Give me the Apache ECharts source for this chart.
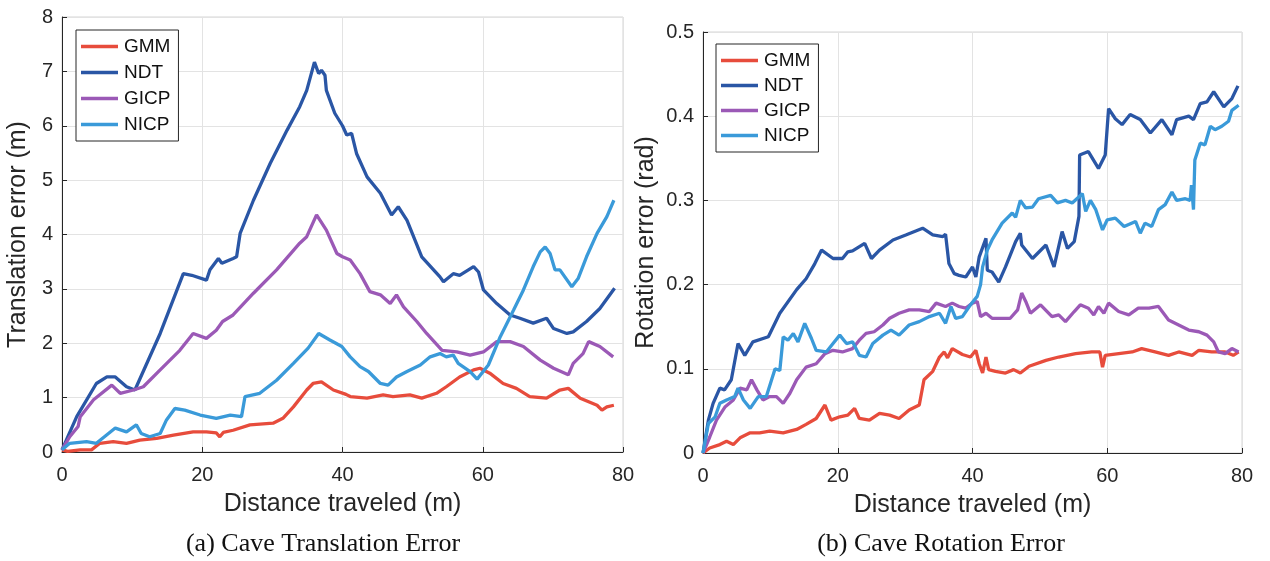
<!DOCTYPE html>
<html>
<head>
<meta charset="utf-8">
<script src="https://cdn.jsdelivr.net/npm/echarts@6/dist/echarts.min.js"></script>
<style>html,body{margin:0;padding:0;background:#fff}#c{width:1270px;height:561px}</style>
</head>
<body>
<div id="c"></div>
<script>
const seriesNames = ['GMM','NDT','GICP','NICP'];
const xTicks = [0,20,40,60,80];
const transTicks = [0,1,2,3,4,5,6,7,8];
const rotTicks = [0,0.1,0.2,0.3,0.4,0.5];

const transGMM = [[0,0.04],[0.8,0.01],[2.6,0.04],[4.2,0.04],[5.4,0.16],[7.3,0.19],[9.2,0.16],[11.1,0.22],[13.5,0.25],[15.9,0.31],[18.7,0.37],[20.6,0.37],[22.0,0.35],[22.5,0.28],[23.0,0.36],[24.4,0.40],[26.8,0.50],[30.1,0.53],[31.5,0.62],[33.0,0.83],[34.9,1.14],[35.8,1.26],[37.0,1.29],[38.7,1.14],[40.5,1.06],[41.1,1.02],[43.5,0.99],[45.8,1.05],[47.2,1.02],[49.6,1.05],[51.3,0.99],[53.4,1.08],[54.8,1.20],[56.7,1.38],[58.7,1.51],[59.6,1.54],[61.0,1.45],[62.9,1.26],[64.8,1.17],[66.7,1.02],[69.1,0.99],[71.0,1.14],[72.2,1.17],[73.9,0.99],[76.3,0.86],[77.0,0.77],[77.7,0.83],[78.7,0.86]];
const transNDT = [[0,0.04],[2.1,0.65],[4.9,1.26],[6.4,1.38],[7.6,1.38],[9.2,1.2],[10.4,1.14],[14,2.18],[17.3,3.28],[18.5,3.25],[20.6,3.16],[21.1,3.35],[22.3,3.56],[22.8,3.47],[24.4,3.56],[24.9,3.59],[25.4,4.02],[27.3,4.63],[29.7,5.31],[32.1,5.92],[33.9,6.35],[34.9,6.65],[36.0,7.17],[36.6,6.96],[37.0,7.02],[37.5,6.93],[37.7,6.65],[38.9,6.23],[40.0,6.0],[40.6,5.83],[41.3,5.86],[42.0,5.49],[43.5,5.06],[45.4,4.76],[47.0,4.36],[47.95,4.51],[49.2,4.26],[51.3,3.59],[53.9,3.22],[54.4,3.13],[55.8,3.28],[56.7,3.25],[58.7,3.41],[59.4,3.31],[60.1,2.98],[62.0,2.73],[63.9,2.52],[65.3,2.46],[67.2,2.37],[69.1,2.46],[70.1,2.27],[72.0,2.18],[72.9,2.21],[74.8,2.40],[76.7,2.64],[78.8,3.01]];
const transGICP = [[0,0.04],[1.1,0.28],[2.3,0.47],[2.6,0.65],[4.5,0.96],[7.1,1.23],[8.3,1.08],[10.2,1.14],[11.6,1.2],[14.0,1.51],[16.8,1.87],[18.7,2.18],[20.6,2.09],[22.0,2.24],[22.9,2.40],[24.4,2.52],[27.3,2.92],[30.6,3.35],[33.9,3.84],[34.9,3.96],[36.3,4.36],[37.7,4.08],[39.2,3.65],[40.0,3.59],[41.1,3.53],[42.5,3.28],[43.9,2.95],[45.4,2.89],[46.8,2.73],[47.7,2.89],[48.7,2.67],[50.6,2.40],[52.0,2.18],[54.2,1.87],[56.3,1.84],[58.2,1.78],[60.1,1.84],[62.0,2.03],[63.9,2.03],[65.8,1.94],[68.2,1.69],[70.1,1.54],[72.2,1.42],[72.9,1.63],[74.3,1.81],[75.1,2.03],[76.7,1.94],[78.6,1.75]];
const transNICP = [[0,0.04],[1.1,0.16],[3.5,0.19],[4.9,0.16],[7.6,0.44],[9.2,0.37],[10.6,0.5],[11.3,0.34],[12.5,0.28],[14.0,0.34],[14.9,0.59],[16.1,0.80],[17.5,0.77],[19.7,0.68],[22.0,0.62],[24.0,0.68],[25.6,0.65],[26.1,1.02],[28.2,1.08],[30.6,1.32],[33.0,1.63],[35.1,1.91],[36.6,2.18],[38.2,2.06],[39.9,1.94],[41.1,1.75],[42.5,1.57],[43.7,1.48],[45.4,1.26],[46.5,1.23],[47.7,1.38],[49.2,1.48],[51.1,1.60],[52.5,1.75],[53.9,1.81],[54.8,1.75],[55.8,1.78],[56.5,1.63],[58.2,1.48],[59.2,1.34],[60.8,1.60],[62.5,2.12],[64.4,2.61],[65.8,2.98],[67.2,3.41],[68.2,3.68],[68.9,3.77],[69.6,3.65],[70.3,3.35],[71.0,3.35],[72.7,3.04],[73.6,3.19],[74.8,3.59],[76.3,4.02],[77.7,4.33],[78.7,4.63]];

const rotGMM = [[0,0],[1,0.006],[2.5,0.01],[3.5,0.014],[4.5,0.01],[5.5,0.018],[7.0,0.024],[8.4,0.024],[9.9,0.026],[11.9,0.024],[13.9,0.028],[15.3,0.034],[16.8,0.041],[18.1,0.057],[19.0,0.039],[20.3,0.043],[21.5,0.045],[22.5,0.053],[23.2,0.041],[24.7,0.039],[26.2,0.047],[27.7,0.045],[29.1,0.041],[30.6,0.051],[32.1,0.057],[32.8,0.087],[34.1,0.097],[35.1,0.114],[35.8,0.12],[36.3,0.113],[37.0,0.124],[38.5,0.117],[39.7,0.114],[40.5,0.122],[41.0,0.106],[41.5,0.095],[42.0,0.114],[42.4,0.099],[43.4,0.097],[44.9,0.095],[46.1,0.099],[47.1,0.095],[48.4,0.103],[50.9,0.110],[52.8,0.114],[55.3,0.118],[57.7,0.12],[58.9,0.12],[59.3,0.102],[59.7,0.116],[61.7,0.118],[63.7,0.12],[65.1,0.124],[67.1,0.12],[69.1,0.116],[70.6,0.12],[72.6,0.116],[73.6,0.122],[75.5,0.12],[77.5,0.12],[78.7,0.116],[79.5,0.12]];
const rotNDT = [[0,0],[0.8,0.039],[1.5,0.059],[2.5,0.077],[3.2,0.075],[4.2,0.087],[5.2,0.130],[6.2,0.116],[7.4,0.132],[9.7,0.138],[11.4,0.166],[13.9,0.194],[15.3,0.207],[16.6,0.225],[17.6,0.241],[19.3,0.231],[20.7,0.231],[21.5,0.239],[22.2,0.24],[24.0,0.249],[25.0,0.231],[26.2,0.241],[28.2,0.253],[30.1,0.259],[32.6,0.267],[34.1,0.259],[35.6,0.257],[36.0,0.26],[36.5,0.225],[37.3,0.213],[38.0,0.211],[39.0,0.209],[40.0,0.221],[40.5,0.209],[41.0,0.233],[42.0,0.255],[42.2,0.217],[42.9,0.215],[43.9,0.203],[44.9,0.221],[46.4,0.251],[47.1,0.261],[47.3,0.247],[48.9,0.231],[50.9,0.247],[52.1,0.221],[53.3,0.263],[54.1,0.243],[55.1,0.251],[55.8,0.281],[55.9,0.354],[57.2,0.358],[58.7,0.338],[59.7,0.354],[60.2,0.409],[61.2,0.397],[62.2,0.390],[63.4,0.402],[64.9,0.396],[66.4,0.380],[68.1,0.396],[69.6,0.378],[70.3,0.396],[72.1,0.4],[72.8,0.396],[73.8,0.415],[74.8,0.417],[75.8,0.429],[77.3,0.411],[78.5,0.421],[79.4,0.436]];
const rotGICP = [[0,0],[1.0,0.019],[2.0,0.039],[3.3,0.055],[4.5,0.063],[5.5,0.077],[6.5,0.075],[7.2,0.087],[8.0,0.075],[8.9,0.063],[9.9,0.067],[10.9,0.067],[11.9,0.059],[12.9,0.071],[13.9,0.087],[15.3,0.102],[16.8,0.106],[18.1,0.118],[19.3,0.122],[20.7,0.12],[22.2,0.124],[23.2,0.134],[24.2,0.142],[25.4,0.144],[26.7,0.152],[27.7,0.160],[29.1,0.166],[30.6,0.170],[32.1,0.17],[33.6,0.168],[34.6,0.178],[36.0,0.174],[37.0,0.178],[38.0,0.174],[39.0,0.172],[40.0,0.178],[40.7,0.180],[41.2,0.162],[42.0,0.166],[42.9,0.160],[44.4,0.16],[45.6,0.16],[46.7,0.170],[47.3,0.190],[47.9,0.18],[48.6,0.166],[50.1,0.176],[51.8,0.162],[52.8,0.164],[53.8,0.156],[55.1,0.168],[56.0,0.176],[57.2,0.172],[58.0,0.164],[58.7,0.174],[59.5,0.166],[60.2,0.178],[61.7,0.168],[63.2,0.164],[64.6,0.172],[66.2,0.172],[67.6,0.174],[69.1,0.158],[70.6,0.152],[72.1,0.146],[73.6,0.144],[74.8,0.140],[75.8,0.132],[76.5,0.120],[77.5,0.118],[78.5,0.124],[79.5,0.12]];
const rotNICP = [[0,0],[0.8,0.035],[1.8,0.043],[2.5,0.059],[3.5,0.063],[4.7,0.067],[5.2,0.077],[6.0,0.063],[7.0,0.053],[8.2,0.067],[9.4,0.067],[10.7,0.1],[11.4,0.098],[11.9,0.138],[12.6,0.134],[13.4,0.142],[14.1,0.132],[15.1,0.154],[16.1,0.136],[16.8,0.122],[18.3,0.120],[19.3,0.130],[20.3,0.140],[21.3,0.13],[22.2,0.132],[23.2,0.116],[24.2,0.114],[25.2,0.130],[26.7,0.140],[27.9,0.146],[29.1,0.14],[30.6,0.152],[32.1,0.156],[33.6,0.162],[35.1,0.166],[36.0,0.154],[36.8,0.174],[37.5,0.16],[38.5,0.162],[39.7,0.176],[40.7,0.186],[41.2,0.2],[41.5,0.221],[42.2,0.241],[42.9,0.253],[44.4,0.273],[45.9,0.285],[46.4,0.28],[47.1,0.300],[47.9,0.291],[48.9,0.292],[49.8,0.302],[51.6,0.306],[52.6,0.297],[53.8,0.3],[54.8,0.297],[56.3,0.308],[56.8,0.287],[57.5,0.3],[58.3,0.289],[59.3,0.265],[60.0,0.277],[61.2,0.279],[62.5,0.269],[64.2,0.275],[64.9,0.261],[65.6,0.273],[66.6,0.269],[67.6,0.289],[68.6,0.295],[69.6,0.310],[70.3,0.30],[71.6,0.302],[72.3,0.30],[72.5,0.318],[72.8,0.289],[73.0,0.348],[73.8,0.368],[74.5,0.366],[75.3,0.388],[76.0,0.384],[77.0,0.388],[78.0,0.394],[78.5,0.407],[79.5,0.413]];

const colors = ['#e74c3c','#2a56a5','#9b59b6','#3a9ad9'];
const FONT = '"Liberation Sans", Arial, sans-serif';
const SERIF = '26px "Liberation Serif", "Times New Roman", serif';

const chart = echarts.init(document.getElementById('c'), null, {renderer:'canvas'});

function xAxis(gi){
  return {
    type:'value', gridIndex:gi, min:0, max:80, interval:20,
    name:'Distance traveled (m)', nameLocation:'middle', nameGap:40,
    nameTextStyle:{fontFamily:FONT, fontSize:25, color:'#262626'},
    axisLine:{show:true, lineStyle:{color:'#262626', width:1}},
    axisTick:{show:true, inside:true, length:5, lineStyle:{color:'#262626'}},
    axisLabel:{fontFamily:FONT, fontSize:20, color:'#262626', margin:13},
    splitLine:{show:true, lineStyle:{color:'#e3e3e3', width:1}}
  };
}
function yAxis(gi, name, max, interval, gap){
  return {
    type:'value', gridIndex:gi, min:0, max:max, interval:interval,
    name:name, nameLocation:'middle', nameGap:gap,
    nameTextStyle:{fontFamily:FONT, fontSize:25, color:'#262626'},
    axisLine:{show:true, lineStyle:{color:'#262626', width:1}},
    axisTick:{show:true, inside:true, length:5, lineStyle:{color:'#262626'}},
    axisLabel:{fontFamily:FONT, fontSize:20, color:'#262626', margin:9},
    splitLine:{show:true, lineStyle:{color:'#e3e3e3', width:1}}
  };
}
function mk(name, data, gi, ci){
  return {
    name:name, type:'line', xAxisIndex:gi, yAxisIndex:gi, data:data,
    showSymbol:false, symbol:'none', smooth:false,
    lineStyle:{color:colors[ci], width:3.3}, itemStyle:{color:colors[ci]},
    animation:false
  };
}
function legend(left, top, gap){
  return {
    show:true, orient:'vertical', left:left, top:top,
    data:seriesNames.map(n=>({name:n, icon:'rect'})),
    itemWidth:37, itemHeight:3.5, itemGap:gap,
    padding:[7,8,7,5],
    borderColor:'#262626', borderWidth:1, backgroundColor:'#fff',
    textStyle:{fontFamily:FONT, fontSize:19, color:'#111', padding:[0,0,0,1]}
  };
}

const option = {
  animation:false,
  backgroundColor:'#fff',
  grid:[
    {left:62, top:17, width:561, height:435, show:true, borderColor:'#d4d4d4', borderWidth:1, backgroundColor:'transparent'},
    {left:703, top:32, width:539, height:421, show:true, borderColor:'#d4d4d4', borderWidth:1, backgroundColor:'transparent'}
  ],
  xAxis:[xAxis(0), xAxis(1)],
  yAxis:[yAxis(0,'Translation error (m)',8,1,31), yAxis(1,'Rotation error (rad)',0.5,0.1,44)],
  legend:[legend(76,30,7), legend(716,44,6)],
  series:[
    mk('GMM', transGMM, 0, 0), mk('NDT', transNDT, 0, 1), mk('GICP', transGICP, 0, 2), mk('NICP', transNICP, 0, 3),
    mk('GMM', rotGMM, 1, 0), mk('NDT', rotNDT, 1, 1), mk('GICP', rotGICP, 1, 2), mk('NICP', rotNICP, 1, 3)
  ],
  graphic:[
    {type:'text', style:{text:'(a) Cave Translation Error', font:SERIF, fill:'#111', textAlign:'center', textVerticalAlign:'middle', x:323, y:544}},
    {type:'text', style:{text:'(b) Cave Rotation Error', font:SERIF, fill:'#111', textAlign:'center', textVerticalAlign:'middle', x:941, y:544}}
  ]
};
chart.setOption(option);
</script>
</body>
</html>
